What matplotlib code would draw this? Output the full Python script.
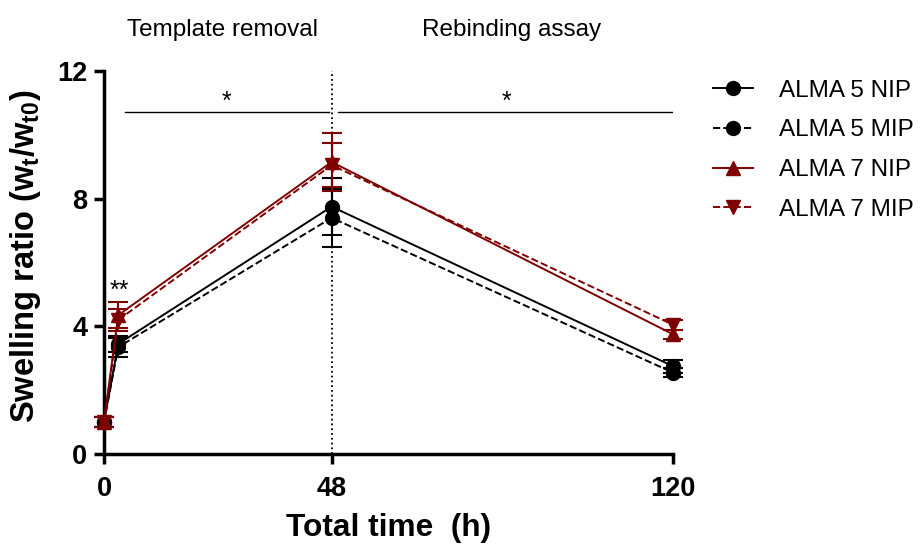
import numpy as np
import matplotlib
matplotlib.use("Agg")
import matplotlib.pyplot as plt
from matplotlib.lines import Line2D

# ==========================================================
# DATA
# ==========================================================
time_h = [0, 3, 48, 120]

alma5_nip = [1.0, 3.45, 7.75, 2.75]
alma5_nip_err = [0.15, 0.25, 0.9, 0.2]
alma5_mip = [1.0, 3.35, 7.4, 2.55]
alma5_mip_err = [0.15, 0.3, 0.9, 0.15]
alma7_nip = [1.0, 4.35, 9.15, 3.75]
alma7_nip_err = [0.15, 0.4, 0.9, 0.15]
alma7_mip = [1.0, 4.2, 9.05, 4.05]
alma7_mip_err = [0.15, 0.35, 0.7, 0.15]

labels = ["ALMA 5 NIP", "ALMA 5 MIP", "ALMA 7 NIP", "ALMA 7 MIP"]
x_ticks = [0, 48, 120]
y_ticks = [0, 4, 8, 12]

# significance bars: (start, end, label)
sig_bars = [(4.4, 47.4, "*"), (49.3, 120.5, "*")]
sig_y = 10.7
phase_labels = [(25.0, "Template removal"), (86.0, "Rebinding assay")]

# ==========================================================
# STYLE
# ==========================================================
plt.rcParams["font.family"] = ["Liberation Sans", "DejaVu Sans"]
plt.rcParams["mathtext.fontset"] = "custom"
plt.rcParams["mathtext.rm"] = "Liberation Sans:bold"
plt.rcParams["mathtext.it"] = "Liberation Sans:bold"
plt.rcParams["mathtext.bf"] = "Liberation Sans:bold"

DARKRED = "#7f0000"

fig = plt.figure(figsize=(9.22, 5.44), dpi=100)
ax = fig.add_axes([0.1128, 0.1654, 0.6172, 0.7041])

series = [
    (alma5_nip, alma5_nip_err, "black", "-", "o"),
    (alma5_mip, alma5_mip_err, "black", "--", "o"),
    (alma7_nip, alma7_nip_err, DARKRED, "-", "^"),
    (alma7_mip, alma7_mip_err, DARKRED, "--", "v"),
]

handles = []
for (vals, err, col, ls, mk), lab in zip(series, labels):
    ax.errorbar(time_h, vals, yerr=err, color=col, linestyle=ls, marker=mk,
                markersize=10, linewidth=1.4, elinewidth=1.5, capsize=7,
                capthick=1.5, clip_on=False, zorder=3)
    handles.append(Line2D([], [], color=col, linestyle=ls, marker=mk,
                          markersize=10, linewidth=1.4, label=lab))

# phase separator
ax.plot([48, 48], [0, 12], color="black", linestyle=":", linewidth=1.3, zorder=1)

for x0, x1, txt in sig_bars:
    ax.plot([x0, x1], [sig_y, sig_y], color="black", linewidth=1.0)
    ax.text((x0 + x1) / 2, sig_y - 0.05, txt, ha="center", va="bottom",
            fontsize=18)
ax.text(3.3, 4.75, "**", ha="center", va="bottom", fontsize=18)

for xc, txt in phase_labels:
    ax.text(xc, 12.95, txt, ha="center", va="bottom", fontsize=17.5,
            clip_on=False)

ax.set_xlim(0, 120)
ax.set_ylim(0, 12)
ax.set_xticks(x_ticks)
ax.set_yticks(y_ticks)

for side in ["top", "right"]:
    ax.spines[side].set_visible(False)
for side in ["left", "bottom"]:
    ax.spines[side].set_linewidth(2.5)
ax.tick_params(width=2.5, length=7, labelsize=19.5, direction="out")
ax.tick_params(axis="x", pad=9)
ax.tick_params(axis="y", pad=5)
for t in ax.get_xticklabels() + ax.get_yticklabels():
    t.set_fontweight("bold")

ax.set_xlabel("Total time  (h)", fontsize=22.8, fontweight="bold", labelpad=8)
ax.set_ylabel(r"Swelling ratio (w$_{t}$/w$_{t0}$)", fontsize=23.5,
              fontweight="bold")
ax.yaxis.set_label_coords(-0.107, 0.517)

fig.legend(handles=handles, loc="upper left", bbox_to_anchor=(0.7733, 0.853),
           frameon=False, fontsize=17.5, handlelength=1.65, labelspacing=0.72,
           handletextpad=1.05, borderpad=0, borderaxespad=0)

fig.savefig("out.png", dpi=100)
